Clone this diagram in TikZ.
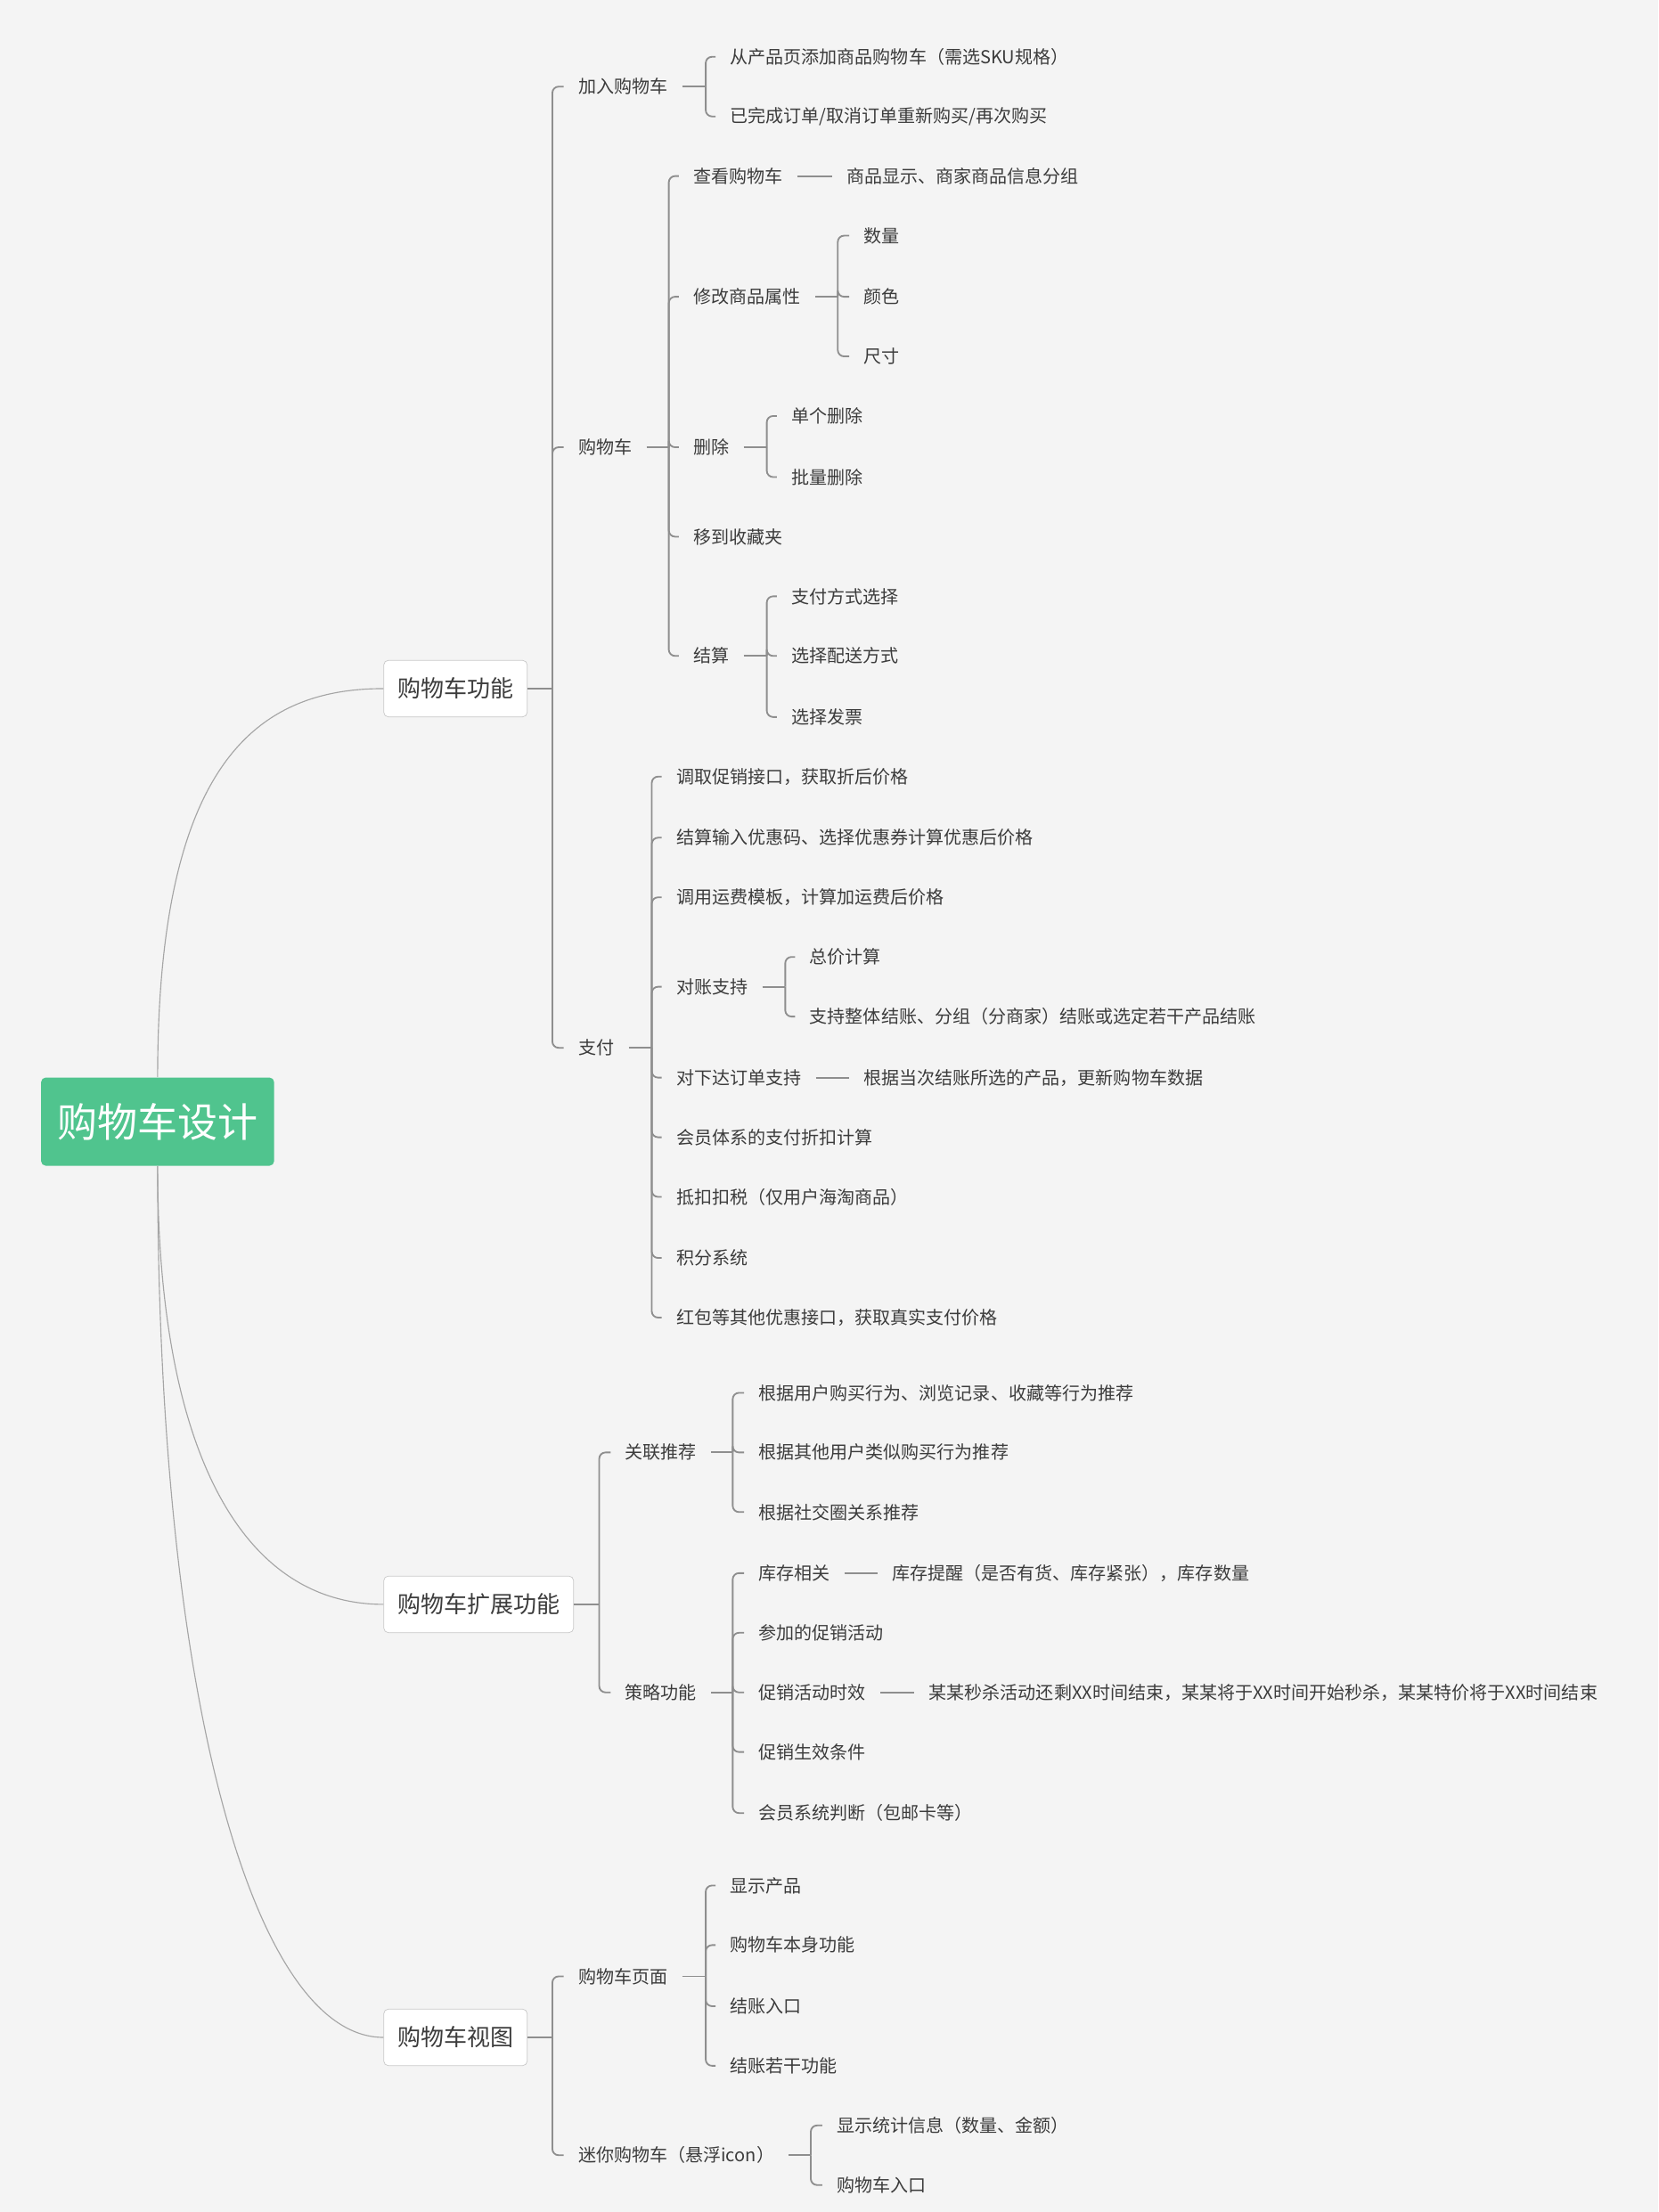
\documentclass[tikz,border=0pt]{standalone}
\usepackage{fontspec}
\setmainfont{Noto Sans CJK SC}
\usepackage{xcolor}
\usepackage{tikz}
\definecolor{bg}{HTML}{F4F4F4}
\definecolor{rootgreen}{HTML}{50C48E}
\definecolor{inkgray}{HTML}{3C3C3C}
\definecolor{linegray}{HTML}{8E8E8E}
\definecolor{boxgray}{HTML}{C8C8C8}
\tikzset{
  rootbox/.style={fill=rootgreen, text=white, rounded corners=3pt,
    minimum width=5.23cm, minimum height=1.98cm, inner sep=0pt,
    font=\fontsize{25.6}{30}\selectfont},
  topicbox/.style={draw=boxgray, fill=white, rounded corners=3pt, text=inkgray,
    inner xsep=3.1mm, minimum height=1.27cm, anchor=west,
    font=\fontsize{14.8}{18}\selectfont},
  leaf/.style={text=inkgray, inner xsep=3.2mm, inner ysep=1mm, anchor=west,
    font=\fontsize{11.4}{14}\selectfont},
  branchline/.style={draw=linegray, line width=1.05pt, rounded corners=4pt},
  curveline/.style={draw=linegray!80, line width=0.65pt}
}

\begin{document}
\begin{tikzpicture}[x=0.031866cm, y=-0.031866cm]
	\fill[bg] (0,0) rectangle (1168,1558);
	\useasboundingbox (0,0) rectangle (1168,1558);
	%
	\node[rootbox] (design) at (111,790) {购物车设计};
	\node[topicbox] (func) at (270,485) {购物车功能};
	\node[topicbox] (ext) at (270,1130) {购物车扩展功能};
	\node[topicbox] (view) at (270,1435) {购物车视图};
	\draw[curveline] (design.north) .. controls +(0,-220) and +(-90,0) .. (func.west);
	\draw[curveline] (design.south) .. controls +(0,200) and +(-100,0) .. (ext.west);
	\draw[curveline] (design.south) .. controls +(0,380) and +(-90,0) .. (view.west);
	%
	\node[leaf] (addcart) at (397,61) {加入购物车};
	\node[leaf] (cart) at (397,315) {购物车};
	\node[leaf] (pay) at (397,738) {支付};
	\coordinate (jFunc) at (389,485);
	\draw[branchline] (func.east) -- (jFunc);
	\draw[branchline] (jFunc) |- (addcart.west);
	\draw[branchline] (jFunc) |- (cart.west);
	\draw[branchline] (jFunc) |- (pay.west);
	%
	\node[leaf] (addFromPage) at (504,40) {从产品页添加商品购物车（需选SKU规格）};
	\node[leaf] (addReorder) at (504,82) {已完成订单/取消订单重新购买/再次购买};
	\coordinate (jAdd) at (497,61);
	\draw[branchline] (addcart.east) -- (jAdd);
	\draw[branchline] (jAdd) |- (addFromPage.west);
	\draw[branchline] (jAdd) |- (addReorder.west);
	%
	\node[leaf] (viewCart) at (478,124) {查看购物车};
	\node[leaf] (viewCartInfo) at (586,124) {商品显示、商家商品信息分组};
	\node[leaf] (editAttr) at (478,209) {修改商品属性};
	\node[leaf] (del) at (478,315) {删除};
	\node[leaf] (fav) at (478,378) {移到收藏夹};
	\node[leaf] (settle) at (478,462) {结算};
	\coordinate (jCart) at (471,315);
	\draw[branchline] (cart.east) -- (jCart);
	\draw[branchline] (jCart) |- (viewCart.west);
	\draw[branchline] (jCart) |- (editAttr.west);
	\draw[branchline] (jCart) |- (del.west);
	\draw[branchline] (jCart) |- (fav.west);
	\draw[branchline] (jCart) |- (settle.west);
	\draw[branchline] (viewCart.east) -- (viewCartInfo.west);
	%
	\node[leaf] (attrQty) at (598,166) {数量};
	\node[leaf] (attrColor) at (598,209) {颜色};
	\node[leaf] (attrSize) at (598,251) {尺寸};
	\coordinate (jAttr) at (590,209);
	\draw[branchline] (editAttr.east) -- (jAttr);
	\draw[branchline] (jAttr) |- (attrQty.west);
	\draw[branchline] (jAttr) |- (attrColor.west);
	\draw[branchline] (jAttr) |- (attrSize.west);
	%
	\node[leaf] (delOne) at (547,293) {单个删除};
	\node[leaf] (delBatch) at (547,336) {批量删除};
	\coordinate (jDel) at (540,315);
	\draw[branchline] (del.east) -- (jDel);
	\draw[branchline] (jDel) |- (delOne.west);
	\draw[branchline] (jDel) |- (delBatch.west);
	%
	\node[leaf] (settlePay) at (547,420) {支付方式选择};
	\node[leaf] (settleShip) at (547,462) {选择配送方式};
	\node[leaf] (settleInvoice) at (547,505) {选择发票};
	\coordinate (jSettle) at (540,462);
	\draw[branchline] (settle.east) -- (jSettle);
	\draw[branchline] (jSettle) |- (settlePay.west);
	\draw[branchline] (jSettle) |- (settleShip.west);
	\draw[branchline] (jSettle) |- (settleInvoice.west);
	%
	\node[leaf] (payPromo) at (466,547) {调取促销接口，获取折后价格};
	\node[leaf] (payCoupon) at (466,590) {结算输入优惠码、选择优惠券计算优惠后价格};
	\node[leaf] (payFreight) at (466,632) {调用运费模板，计算加运费后价格};
	\node[leaf] (payCheck) at (466,695) {对账支持};
	\node[leaf] (payOrder) at (466,759) {对下达订单支持};
	\node[leaf] (payOrderInfo) at (598,759) {根据当次结账所选的产品，更新购物车数据};
	\node[leaf] (payMember) at (466,801) {会员体系的支付折扣计算};
	\node[leaf] (payTax) at (466,843) {抵扣扣税（仅用户海淘商品）};
	\node[leaf] (payPoints) at (466,886) {积分系统};
	\node[leaf] (payRedpack) at (466,928) {红包等其他优惠接口，获取真实支付价格};
	\coordinate (jPay) at (459,738);
	\draw[branchline] (pay.east) -- (jPay);
	\draw[branchline] (jPay) |- (payPromo.west);
	\draw[branchline] (jPay) |- (payCoupon.west);
	\draw[branchline] (jPay) |- (payFreight.west);
	\draw[branchline] (jPay) |- (payCheck.west);
	\draw[branchline] (jPay) |- (payOrder.west);
	\draw[branchline] (jPay) |- (payMember.west);
	\draw[branchline] (jPay) |- (payTax.west);
	\draw[branchline] (jPay) |- (payPoints.west);
	\draw[branchline] (jPay) |- (payRedpack.west);
	\draw[branchline] (payOrder.east) -- (payOrderInfo.west);
	%
	\node[leaf] (checkTotal) at (560,674) {总价计算};
	\node[leaf] (checkSplit) at (560,716) {支持整体结账、分组（分商家）结账或选定若干产品结账};
	\coordinate (jCheck) at (553,695);
	\draw[branchline] (payCheck.east) -- (jCheck);
	\draw[branchline] (jCheck) |- (checkTotal.west);
	\draw[branchline] (jCheck) |- (checkSplit.west);
	%
	\node[leaf] (recommend) at (430,1023) {关联推荐};
	\node[leaf] (strategy) at (430,1192) {策略功能};
	\coordinate (jExt) at (422,1130);
	\draw[branchline] (ext.east) -- (jExt);
	\draw[branchline] (jExt) |- (recommend.west);
	\draw[branchline] (jExt) |- (strategy.west);
	%
	\node[leaf] (recBehavior) at (524,981) {根据用户购买行为、浏览记录、收藏等行为推荐};
	\node[leaf] (recSimilar) at (524,1023) {根据其他用户类似购买行为推荐};
	\node[leaf] (recSocial) at (524,1065) {根据社交圈关系推荐};
	\coordinate (jRec) at (516,1023);
	\draw[branchline] (recommend.east) -- (jRec);
	\draw[branchline] (jRec) |- (recBehavior.west);
	\draw[branchline] (jRec) |- (recSimilar.west);
	\draw[branchline] (jRec) |- (recSocial.west);
	%
	\node[leaf] (stockRel) at (524,1108) {库存相关};
	\node[leaf] (stockInfo) at (618,1108) {库存提醒（是否有货、库存紧张），库存数量};
	\node[leaf] (promoJoin) at (524,1150) {参加的促销活动};
	\node[leaf] (promoTime) at (524,1192) {促销活动时效};
	\node[leaf] (promoTimeInfo) at (644,1192) {某某秒杀活动还剩XX时间结束，某某将于XX时间开始秒杀，某某特价将于XX时间结束};
	\node[leaf] (promoCond) at (524,1234) {促销生效条件};
	\node[leaf] (memberJudge) at (524,1277) {会员系统判断（包邮卡等）};
	\coordinate (jStrat) at (516,1192);
	\draw[branchline] (strategy.east) -- (jStrat);
	\draw[branchline] (jStrat) |- (stockRel.west);
	\draw[branchline] (jStrat) |- (promoJoin.west);
	\draw[branchline] (jStrat) |- (promoTime.west);
	\draw[branchline] (jStrat) |- (promoCond.west);
	\draw[branchline] (jStrat) |- (memberJudge.west);
	\draw[branchline] (stockRel.east) -- (stockInfo.west);
	\draw[branchline] (promoTime.east) -- (promoTimeInfo.west);
	%
	\node[leaf] (cartPage) at (397,1392) {购物车页面};
	\node[leaf] (miniCart) at (397,1518) {迷你购物车（悬浮icon）};
	\coordinate (jView) at (389,1435);
	\draw[branchline] (view.east) -- (jView);
	\draw[branchline] (jView) |- (cartPage.west);
	\draw[branchline] (jView) |- (miniCart.west);
	%
	\node[leaf] (pageShow) at (504,1328) {显示产品};
	\node[leaf] (pageFunc) at (504,1370) {购物车本身功能};
	\node[leaf] (pageCheckout) at (504,1413) {结账入口};
	\node[leaf] (pageMore) at (504,1455) {结账若干功能};
	\coordinate (jPage) at (497,1392);
	\draw[branchline] (cartPage.east) -- (jPage);
	\draw[branchline] (jPage) |- (pageShow.west);
	\draw[branchline] (jPage) |- (pageFunc.west);
	\draw[branchline] (jPage) |- (pageCheckout.west);
	\draw[branchline] (jPage) |- (pageMore.west);
	%
	\node[leaf] (miniStats) at (579,1497) {显示统计信息（数量、金额）};
	\node[leaf] (miniEntry) at (579,1539) {购物车入口};
	\coordinate (jMini) at (571,1518);
	\draw[branchline] (miniCart.east) -- (jMini);
	\draw[branchline] (jMini) |- (miniStats.west);
	\draw[branchline] (jMini) |- (miniEntry.west);
\end{tikzpicture}
\end{document}
